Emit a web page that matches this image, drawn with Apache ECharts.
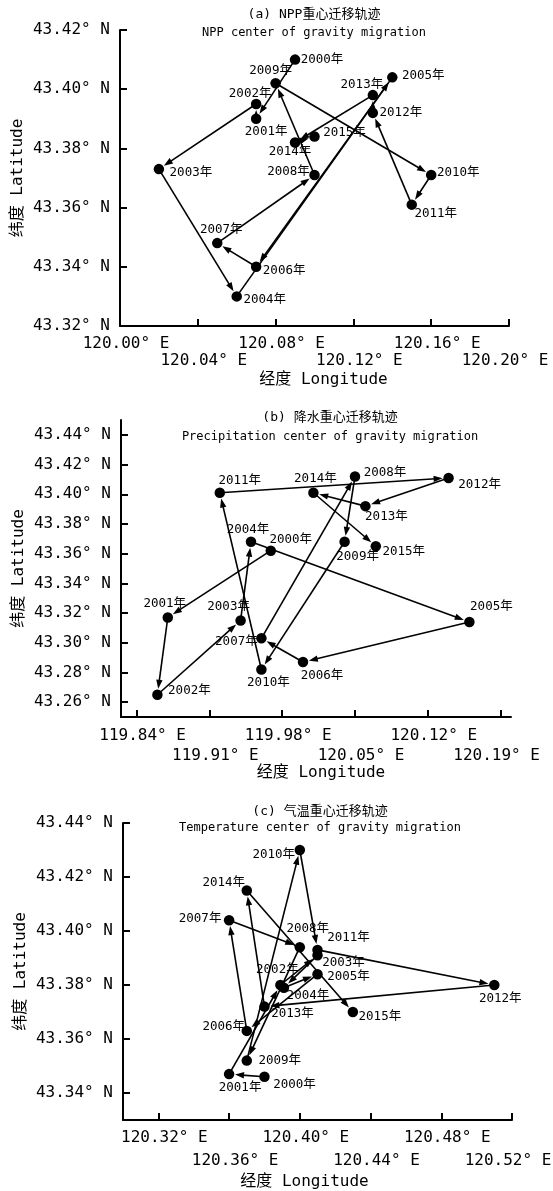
<!DOCTYPE html>
<html>
<head>
<meta charset="utf-8">
<script src="https://cdn.jsdelivr.net/npm/echarts@6/dist/echarts.min.js"></script>
<style>
  html, body { margin: 0; padding: 0; background: #fff; }
  #chart { width: 553px; height: 1191px; }
</style>
</head>
<body>
<div id="chart"></div>
<script>
// Years of each gravity-center position
const years = ['2000', '2001', '2002', '2003', '2004', '2005', '2006', '2007',
               '2008', '2009', '2010', '2011', '2012', '2013', '2014', '2015'];

// (a) NPP gravity center
const nppLon = [120.090, 120.070, 120.070, 120.020, 120.060, 120.140, 120.070, 120.050,
                120.100, 120.080, 120.160, 120.150, 120.130, 120.130, 120.090, 120.100];
const nppLat = [43.410, 43.390, 43.395, 43.373, 43.330, 43.404, 43.340, 43.348,
                43.371, 43.402, 43.371, 43.361, 43.392, 43.398, 43.382, 43.384];

// (b) precipitation gravity center
const precLon = [119.969, 119.870, 119.860, 119.940, 119.950, 120.160, 120.000, 119.960,
                 120.050, 120.040, 119.960, 119.920, 120.140, 120.060, 120.010, 120.070];
const precLat = [43.362, 43.317, 43.265, 43.315, 43.368, 43.314, 43.287, 43.303,
                 43.412, 43.368, 43.282, 43.401, 43.411, 43.392, 43.401, 43.365];

// (c) temperature gravity center
const tempLon = [120.380, 120.360, 120.389, 120.410, 120.391, 120.410, 120.370, 120.360,
                 120.400, 120.370, 120.400, 120.410, 120.510, 120.380, 120.370, 120.430];
const tempLat = [43.346, 43.347, 43.380, 43.391, 43.379, 43.384, 43.363, 43.404,
                 43.394, 43.352, 43.430, 43.393, 43.380, 43.372, 43.415, 43.370];

// Axis tick values
const nppLonTicks  = [120.00, 120.04, 120.08, 120.12, 120.16, 120.20];
const nppLatTicks  = [43.32, 43.34, 43.36, 43.38, 43.40, 43.42];
const precLonTicks = [119.84, 119.91, 119.98, 120.05, 120.12, 120.19];
const precLatTicks = [43.26, 43.28, 43.30, 43.32, 43.34, 43.36, 43.38, 43.40, 43.42, 43.44];
const tempLonTicks = [120.32, 120.36, 120.40, 120.44, 120.48, 120.52];
const tempLatTicks = [43.34, 43.36, 43.38, 43.40, 43.42, 43.44];

// Year-label placement (pixel offset of each label from its dot)
const nppLabelOffset = [[27,0],[10,13],[-6,-10],[32,4],[28,3],[31,-2],[28,4],[4,-13],
                        [-26,-3],[-5,-13],[27,-2],[24,9],[28,0],[-11,-10],[-5,9],[30,-4]];
const precLabelOffset = [[20,-11],[-3,-14],[32,-4],[-12,-14],[-3,-12],[22,-15],[19,14],[-25,3],
                         [30,-4],[13,15],[7,13],[20,-12],[31,7],[21,11],[2,-14],[28,6]];
const tempLabelOffset = [[30,8],[11,14],[-3,-15],[26,7],[24,8],[31,3],[-23,-4],[-29,-1],
                         [8,-18],[33,0],[-26,5],[31,-12],[6,14],[28,7],[-23,-8],[27,5]];

const MONO = '"DejaVu Sans Mono", "Noto Sans CJK SC", monospace';

// Longitude labels alternate between two rows; the last one is nudged inward
function lonLabel(ticks) {
  const last = ticks[ticks.length - 1];
  return v => {
    const s = v.toFixed(2) + '° E';
    return Math.abs(v - last) < 1e-6 ? '{n|' + s + '}' : '{s|' + s + '}';
  };
}
const lonRich = { s: { padding: [0, 0, 0, 12] }, n: { padding: [0, 8, 0, 0] } };

// Main x axis: line, ticks, first-row labels and the axis name
function xAxisMain(gi, min, max, ticks, margin, nameGap, namePad) {
  return {
    type: 'value', gridIndex: gi, min: min, max: max, position: 'bottom',
    axisLine: { onZero: false, lineStyle: { color: '#000', width: 2 } },
    axisTick: { inside: true, length: 7, customValues: ticks, lineStyle: { color: '#000', width: 2 } },
    axisLabel: {
      customValues: ticks.filter((t, i) => i % 2 === 0),
      color: '#000', fontSize: 16, fontFamily: MONO, margin: margin,
      showMinLabel: true, showMaxLabel: true, hideOverlap: false,
      formatter: lonLabel(ticks), rich: lonRich
    },
    splitLine: { show: false },
    name: '经度 Longitude', nameLocation: 'middle', nameGap: nameGap, nameMoveOverlap: false,
    nameTextStyle: { color: '#000', fontSize: 16, fontFamily: MONO, padding: namePad }
  };
}

// Companion x axis carrying the second-row labels
function xAxisRow2(gi, min, max, ticks, margin) {
  return {
    type: 'value', gridIndex: gi, min: min, max: max, position: 'bottom', offset: 0,
    axisLine: { show: false, onZero: false },
    axisTick: { show: false },
    axisLabel: {
      customValues: ticks.filter((t, i) => i % 2 === 1),
      color: '#000', fontSize: 16, fontFamily: MONO, margin: margin,
      showMinLabel: true, showMaxLabel: true, hideOverlap: false,
      formatter: lonLabel(ticks), rich: lonRich
    },
    splitLine: { show: false }
  };
}

function yAxisFor(gi, min, max, ticks) {
  return {
    type: 'value', gridIndex: gi, min: min, max: max,
    axisLine: { onZero: false, lineStyle: { color: '#000', width: 2 } },
    axisTick: { inside: true, length: 7, customValues: ticks, lineStyle: { color: '#000', width: 2 } },
    axisLabel: {
      customValues: ticks, color: '#000', fontSize: 16, fontFamily: MONO, margin: 10,
      showMinLabel: true, showMaxLabel: true, hideOverlap: false,
      formatter: v => v.toFixed(2) + '° N'
    },
    splitLine: { show: false },
    name: '纬度 Latitude', nameLocation: 'middle', nameRotate: 90, nameGap: 94,
    nameMoveOverlap: false,
    nameTextStyle: { color: '#000', fontSize: 16, fontFamily: MONO }
  };
}

// Arrow from one year's center to the next, stopping just short of the dot
const GAP = 6, HEAD_L = 9, HEAD_HW = 3.2;
function renderArrow(params, api) {
  const a = api.coord([api.value(0), api.value(1)]);
  const b = api.coord([api.value(2), api.value(3)]);
  const dx = b[0] - a[0], dy = b[1] - a[1];
  const len = Math.hypot(dx, dy) || 1;
  const ux = dx / len, uy = dy / len, nx = -uy, ny = ux;
  const tip = [b[0] - ux * GAP, b[1] - uy * GAP];
  const base = [tip[0] - ux * HEAD_L, tip[1] - uy * HEAD_L];
  return {
    type: 'group',
    children: [
      { type: 'line', shape: { x1: a[0], y1: a[1], x2: base[0] + ux * 2, y2: base[1] + uy * 2 },
        style: { stroke: '#000', lineWidth: 1.6 } },
      { type: 'polygon',
        shape: { points: [tip, [base[0] + nx * HEAD_HW, base[1] + ny * HEAD_HW],
                               [base[0] - nx * HEAD_HW, base[1] - ny * HEAD_HW]] },
        style: { fill: '#000' } }
    ]
  };
}

function segments(lon, lat) {
  const out = [];
  for (let i = 0; i < lon.length - 1; i++) out.push([lon[i], lat[i], lon[i + 1], lat[i + 1]]);
  return out;
}

function trackSeries(gi, lon, lat, offsets) {
  return [
    {
      type: 'custom', coordinateSystem: 'cartesian2d', xAxisIndex: gi * 2, yAxisIndex: gi,
      data: segments(lon, lat), encode: { x: [0, 2], y: [1, 3] },
      renderItem: renderArrow, z: 2, silent: true
    },
    {
      type: 'scatter', xAxisIndex: gi * 2, yAxisIndex: gi, symbol: 'circle', symbolSize: 10.5,
      itemStyle: { color: '#000', opacity: 1 }, z: 3, silent: true,
      data: years.map((y, i) => ({
        value: [lon[i], lat[i]],
        label: { show: true, position: 'inside', offset: offsets[i], formatter: y + '年',
                 color: '#000', fontSize: 12.5, fontFamily: MONO }
      }))
    }
  ];
}

function titleText(cx, y1, y2, line1, line2) {
  return [
    { type: 'text', x: cx, y: y1,
      style: { text: line1, align: 'center', verticalAlign: 'middle', fill: '#000',
               fontSize: 13, fontFamily: MONO } },
    { type: 'text', x: cx, y: y2,
      style: { text: line2, align: 'center', verticalAlign: 'middle', fill: '#000',
               fontSize: 12, fontFamily: MONO } }
  ];
}

const chart = echarts.init(document.getElementById('chart'), null, { renderer: 'canvas' });
chart.setOption({
  animation: false,
  backgroundColor: '#fff',
  grid: [
    { left: 120, top: 30, width: 389, height: 296, outerBoundsMode: 'none' },
    { left: 121, top: 420, width: 390, height: 297, outerBoundsMode: 'none' },
    { left: 123, top: 823, width: 389, height: 297, outerBoundsMode: 'none' }
  ],
  xAxis: [
    xAxisMain(0, 120.00, 120.20, nppLonTicks, 10, 46, [0, 0, 0, 18]),
    xAxisRow2(0, 120.00, 120.20, nppLonTicks, 27),
    xAxisMain(1, 119.825, 120.20, precLonTicks, 11, 48, [0, 0, 0, 10]),
    xAxisRow2(1, 119.825, 120.20, precLonTicks, 31),
    xAxisMain(2, 120.30, 120.52, tempLonTicks, 10, 54, [0, 26, 0, 0]),
    xAxisRow2(2, 120.30, 120.52, tempLonTicks, 33)
  ],
  yAxis: [
    yAxisFor(0, 43.32, 43.42, nppLatTicks),
    yAxisFor(1, 43.25, 43.45, precLatTicks),
    yAxisFor(2, 43.33, 43.44, tempLatTicks)
  ],
  graphic: [].concat(
    titleText(314, 15, 33, '(a) NPP重心迁移轨迹', 'NPP center of gravity migration'),
    titleText(330, 418, 437, '(b) 降水重心迁移轨迹', 'Precipitation center of gravity migration'),
    titleText(320, 812, 828, '(c) 气温重心迁移轨迹', 'Temperature center of gravity migration')
  ),
  series: [].concat(
    trackSeries(0, nppLon, nppLat, nppLabelOffset),
    trackSeries(1, precLon, precLat, precLabelOffset),
    trackSeries(2, tempLon, tempLat, tempLabelOffset)
  )
});
</script>
</body>
</html>
